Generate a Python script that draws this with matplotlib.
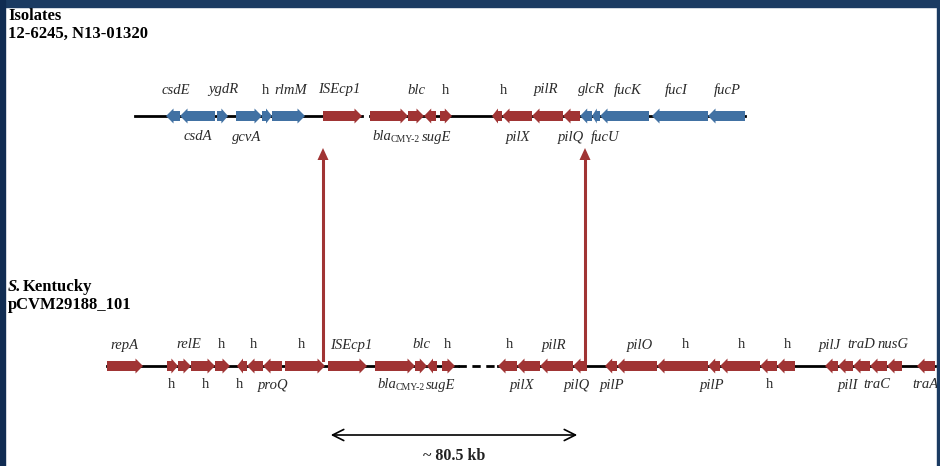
import matplotlib
matplotlib.use("Agg")
import matplotlib.pyplot as plt
from matplotlib.patches import Polygon, Rectangle

# Ряд 1: ізоляти 12-6245, N13-01320  (початок, кінець, напрям, колір)
top_genes = [
    (166, 180, -1, "b"), (180, 215, -1, "b"), (217, 228, 1, "b"),
    (236, 262, 1, "b"), (262, 272, 1, "b"), (272, 305, 1, "b"),
    (323, 362, 1, "r"), (370, 408, 1, "r"), (408, 424, 1, "r"),
    (424, 436, -1, "r"), (440, 452, 1, "r"),
    (492, 502, -1, "r"), (502, 532, -1, "r"), (532, 563, -1, "r"), (563, 580, -1, "r"),
    (580, 592, -1, "b"), (592, 600, -1, "b"), (600, 649, -1, "b"),
    (652, 708, -1, "b"), (708, 745, -1, "b"),
]
top_backbone = [(135, 362), (370, 745)]
top_labels_up = [("csdE", 176), ("ygdR", 223), ("h", 265), ("rlmM", 291), ("ISEcp1", 339),
                 ("blc", 416), ("h", 445), ("h", 504), ("pilR", 546), ("glcR", 591),
                 ("fucK", 628), ("fucI", 676), ("fucP", 727)]
top_labels_down = [("csdA", 198), ("gcvA", 247), ("sugE", 437), ("pilX", 518),
                   ("pilQ", 571), ("fucU", 605)]
top_bla_x = 390

# Ряд 2: S. Kentucky pCVM29188_101
bot_genes = [
    (107, 143, 1), (167, 178, 1), (178, 191, 1), (191, 215, 1), (215, 230, 1),
    (237, 247, -1), (247, 263, -1), (263, 282, -1), (285, 325, 1),
    (328, 367, 1), (375, 415, 1), (415, 427, 1), (427, 437, -1), (442, 455, 1),
    (498, 517, -1), (517, 540, -1), (540, 573, -1), (573, 587, -1),
    (605, 617, -1), (617, 657, -1), (657, 708, -1), (708, 720, -1), (720, 760, -1),
    (760, 777, -1), (777, 795, -1),
    (825, 838, -1), (838, 853, -1), (853, 870, -1), (870, 887, -1), (887, 902, -1),
    (917, 935, -1),
]
bot_backbone = [(107, 458), (498, 935)]
bot_dashed = (458, 498)
bot_labels_up = [("repA", 124), ("relE", 189), ("h", 222), ("h", 254), ("h", 302),
                 ("ISEcp1", 351), ("blc", 421), ("h", 448), ("h", 510), ("pilR", 554),
                 ("pilO", 640), ("h", 686), ("h", 742), ("h", 788), ("pilJ", 830),
                 ("traD", 861), ("nusG", 893)]
bot_labels_down = [("h", 172), ("h", 205), ("h", 240), ("proQ", 273), ("sugE", 441),
                   ("pilX", 522), ("pilQ", 577), ("pilP", 612), ("pilP", 712), ("h", 770),
                   ("pilI", 848), ("traC", 877), ("traA", 925)]
bot_bla_x = 395

# вертикальні стрілки (x) і розмір ділянки
links = [323, 585]
span = (328, 580)
span_label = "~ 80.5 kb"

RED = "#a03434"
BLUE = "#4171a3"
NAVY = "#1b3b62"
SERIF = "Liberation Serif"
FS = 10.5

y_top, y_bot = 116, 366

fig = plt.figure(figsize=(9.4, 4.66), dpi=100)
ax = fig.add_axes([0, 0, 1, 1])
ax.set_xlim(0, 940)
ax.set_ylim(466, 0)
ax.axis("off")

# рамка слайду
ax.add_patch(Rectangle((0, 0), 940, 7, color=NAVY, zorder=5))
ax.add_patch(Rectangle((0, 0), 5, 466, color="#102c52", zorder=5))
ax.add_patch(Rectangle((937, 0), 3, 466, color=NAVY, zorder=5))


def gene(start, end, strand, y, color):
    L = end - start
    hl = min(7.5, L * 0.6)
    bh, hh = 5, 7.5
    if strand > 0:
        base, tip = start, end
    else:
        base, tip = end, start
    neck = tip - strand * hl
    pts = [(base, y - bh), (neck, y - bh), (neck, y - hh), (tip, y),
           (neck, y + hh), (neck, y + bh), (base, y + bh)]
    ax.add_patch(Polygon(pts, closed=True, facecolor=color, edgecolor="none", zorder=3))


def label(name, x, y):
    style = "normal" if name == "h" else "italic"
    ax.text(x, y, name, fontsize=FS, family=SERIF, style=style, color="#2a2a2a",
            ha="center", va="center", zorder=4)


def bla(x, y):
    ax.text(x + 1, y, "bla", fontsize=FS, family=SERIF, style="italic", color="#2a2a2a",
            ha="right", va="center")
    ax.text(x + 1, y + 3, "CMY-2", fontsize=7, family=SERIF, color="#2a2a2a",
            ha="left", va="center")


# ряд 1
for a, b in top_backbone:
    ax.plot([a, b], [y_top, y_top], color="black", lw=2, zorder=2)
for s, e, d, c in top_genes:
    gene(s, e, d, y_top, BLUE if c == "b" else RED)
for n, x in top_labels_up:
    label(n, x, y_top - 26)
for n, x in top_labels_down:
    label(n, x, y_top + 21)
bla(top_bla_x, y_top + 21)

# ряд 2
for a, b in bot_backbone:
    ax.plot([a, b], [y_bot, y_bot], color="black", lw=2, zorder=2)
ax.plot(bot_dashed, [y_bot, y_bot], color="black", lw=2, ls=(0, (3, 2)), zorder=2)
for s, e, d in bot_genes:
    gene(s, e, d, y_bot, RED)
for n, x in bot_labels_up:
    label(n, x, y_bot - 21)
for n, x in bot_labels_down:
    label(n, x, y_bot + 19)
bla(bot_bla_x, y_bot + 19)

# вертикальні зв'язки
for x in links:
    ax.plot([x, x], [y_bot - 6, 158], color=RED, lw=2.2, zorder=1)
    ax.add_patch(Polygon([(x - 5.5, 160), (x, 148), (x + 5.5, 160)], closed=True,
                         facecolor=RED, edgecolor="none", zorder=1))

# розмір ділянки
ax.annotate("", xy=(span[0], 435), xytext=(span[1], 435),
            arrowprops=dict(arrowstyle="<->", color="black", lw=1.2, mutation_scale=20))
ax.text((span[0] + span[1]) / 2, 456, span_label, fontsize=11.5, family=SERIF,
        weight="bold", ha="center", va="center", color="#222222")

# підписи рядів
ax.text(8, 16, "Isolates", fontsize=12, family=SERIF, weight="bold", va="center")
ax.text(8, 34, "12-6245, N13-01320", fontsize=12, family=SERIF, weight="bold", va="center")
ax.text(8, 287, "S.", fontsize=12, family=SERIF, weight="bold", style="italic", va="center")
ax.text(23, 287, "Kentucky", fontsize=12, family=SERIF, weight="bold", va="center")
ax.text(8, 305, "pCVM29188_101", fontsize=12, family=SERIF, weight="bold", va="center")

fig.savefig("out.png", dpi=100)
